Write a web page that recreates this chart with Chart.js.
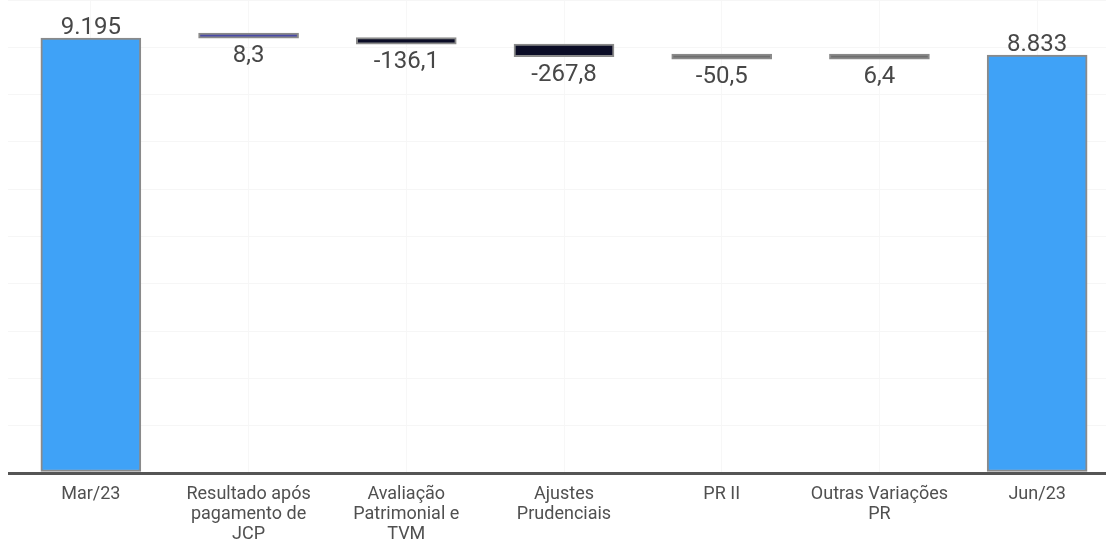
<!DOCTYPE html>
<html lang="pt-BR">
<head>
<meta charset="utf-8">
<script src="https://cdn.jsdelivr.net/npm/chart.js@4.4.1/dist/chart.umd.min.js"></script>
<style>
  html, body { margin: 0; padding: 0; background: #fff; }
  #wrap { width: 1106px; height: 541px; overflow: hidden; }
</style>
</head>
<body>
<div id="wrap"><canvas id="grafico" width="1116" height="541"></canvas></div>
<script>
// dados (cascata do PR)
const categorias = [
    'Mar/23',
    ['Resultado após', 'pagamento de', 'JCP'],
    ['Avaliação', 'Patrimonial e', 'TVM'],
    ['Ajustes', 'Prudenciais'],
    'PR II',
    ['Outras Variações', 'PR'],
    'Jun/23'
];
const valores = [9195, 8.3, -136.1, -267.8, -50.5, 6.4, 8833];
const tipos = ['total', 'delta', 'delta', 'delta', 'delta', 'delta', 'total'];
const rotulos = ['9.195', '8,3', '-136,1', '-267,8', '-50,5', '6,4', '8.833'];

// monta as barras flutuantes da cascata
let acumulado = 0;
const barras = valores.map((v, i) => {
    if (tipos[i] === 'total') {
        acumulado = v;
        return [0, v];
    }
    const inicio = acumulado;
    acumulado += v;
    return [inicio, acumulado];
});

const cores = ['#3fa2f7', '#4a4aa6', '#0b0c26', '#0b0c26', '#6e6e6e', '#6e6e6e', '#3fa2f7'];

const rotulosPlugin = {
    id: 'rotulos',
    afterDatasetsDraw(chart) {
        const ctx = chart.ctx;
        const meta = chart.getDatasetMeta(0);
        ctx.save();
        ctx.font = '24px Roboto';
        ctx.fillStyle = '#474747';
        ctx.textAlign = 'center';
        ctx.textBaseline = 'alphabetic';
        meta.data.forEach((bar, i) => {
            const topo = Math.min(bar.y, bar.base);
            const fundo = Math.max(bar.y, bar.base);
            if (tipos[i] === 'total') {
                ctx.fillText(rotulos[i], bar.x, topo - 4);
            } else {
                ctx.fillText(rotulos[i], bar.x, fundo + 24);
            }
        });
        ctx.restore();
    }
};

new Chart(document.getElementById('grafico'), {
    type: 'bar',
    data: {
        labels: categorias,
        datasets: [{
            data: barras,
            backgroundColor: cores,
            borderColor: '#8a8a8a',
            borderWidth: 2,
            borderSkipped: false,
            barThickness: 100,
            minBarLength: 5
        }]
    },
    options: {
        responsive: false,
        animation: false,
        layout: { padding: 0 },
        plugins: {
            legend: { display: false },
            tooltip: { enabled: false }
        },
        scales: {
            x: {
                grid: { offset: false, color: '#f7f7f7', drawTicks: false },
                border: { display: false },
                ticks: {
                    color: '#505050',
                    font: { family: 'Roboto', size: 18, lineHeight: 20 / 18 },
                    padding: 11,
                    maxRotation: 0,
                    autoSkip: false
                },
                afterFit: (scale) => { scale.height = 68; }
            },
            y: {
                min: 0,
                max: 10000,
                grid: {
                    color: (c) => c.tick && c.tick.value === 0 ? '#555' : '#f6f6f6',
                    lineWidth: (c) => c.tick && c.tick.value === 0 ? 3 : 1,
                    tickLength: 4
                },
                border: { display: false },
                ticks: { display: false, stepSize: 1000 },
                afterFit: (scale) => { scale.width = 12; }
            }
        }
    },
    plugins: [rotulosPlugin]
});
</script>
</body>
</html>
